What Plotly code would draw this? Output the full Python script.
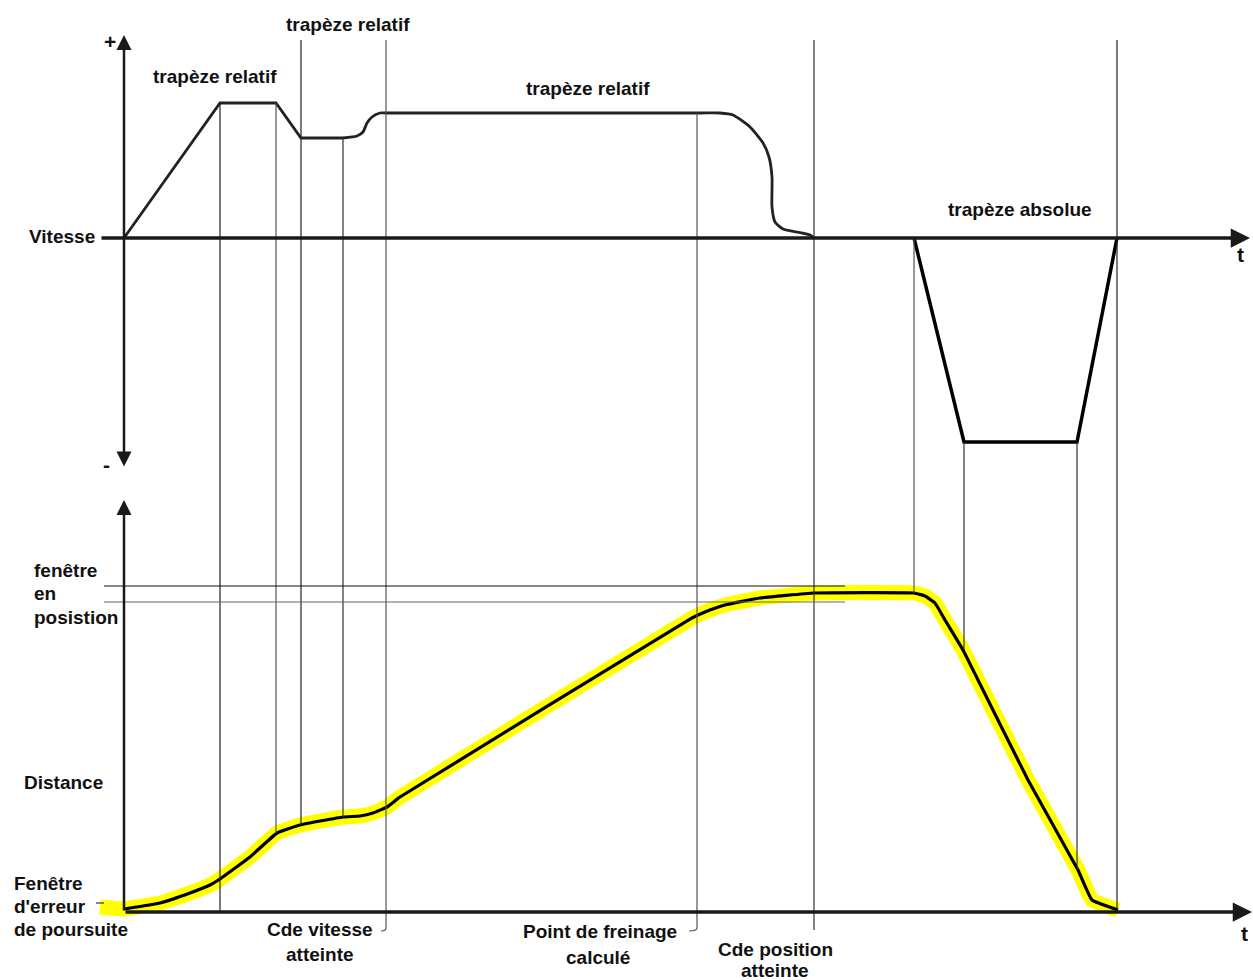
import plotly.graph_objects as go

# ---------------- data (time in arbitrary units, values in arbitrary units) ----------------
# Speed profile (upper diagram): relative trapezoids (straight part) ...
speed_t = [124, 220, 276, 301, 343]
speed_v = [0, 135, 135, 100, 100]
# ... then smooth change of speed and smooth braking to zero
speed2_t = [343, 357, 363, 367, 372, 380, 386, 700, 720, 733, 750, 763,
            769, 772, 772, 775, 783, 797, 810, 814]
speed2_v = [100, 102, 106, 115, 121, 125, 125, 125, 125, 123, 111, 95,
            81, 61, 31, 16, 9, 6, 3, 0]
# Absolute trapezoid (negative speed)
abs_t = [914, 964, 1077, 1117]
abs_v = [0, -204, -204, 0]

# Distance profile (lower diagram)
dist_t = [124, 160, 190, 210, 220, 250, 277, 300, 343, 360, 373, 387, 400, 692, 705, 725,
          760, 814, 914, 925, 935, 945, 963, 977, 1028, 1078, 1092, 1118]
dist_d = [3, 9, 19, 27, 33, 55, 79, 87, 95, 96, 99, 105, 115, 294, 300, 307,
          314, 319, 319, 316, 309, 292, 262, 234, 132, 42, 12, 2]
err_start_t = 100     # following-error window starts left of the axis
err_start_d = 5

# In-position window levels (distance units)
window_hi = 326
window_lo = 310

# Marker instants: (time, top on speed axis, bottom on distance axis)
mark_t = [220, 276, 301, 343, 386, 697, 814, 914, 964, 1077, 1117]
mark_top_v = [135, 135, 198, 100, 198, 125, 198, 0, -204, -204, 198]
mark_bot_d = [0, 79, 87, 95, -16, -16, -18, 319, 262, 42, 2]
mark_color = ["#222", "#555", "#222", "#333", "#555", "#555", "#333", "#555", "#333", "#333", "#222"]

# ---------------- layout helpers ----------------
W, H = 1253, 980
V0_PX = 238   # pixel row of speed zero
D0_PX = 912   # pixel row of distance zero


def v_paper(v):
    return (v - (V0_PX - H)) / H


def d_paper(d):
    return (d - (D0_PX - H)) / H


def px_paper(py):
    return 1 - py / H


FONT = "Liberation Sans, Arial, sans-serif"
INK = "#1a1a1a"
FS = 19

fig = go.Figure()

# yellow following-error band
fig.add_trace(go.Scatter(x=[err_start_t] + dist_t, y=[err_start_d] + dist_d, yaxis="y2",
                         mode="lines", line=dict(color="#ffff00", width=15, shape="spline", smoothing=0.3),
                         hoverinfo="skip", showlegend=False))
# distance curve
fig.add_trace(go.Scatter(x=dist_t, y=dist_d, yaxis="y2", mode="lines",
                         line=dict(color="#000", width=3.2, shape="spline", smoothing=0.3),
                         hoverinfo="skip", showlegend=False))
# speed curve
fig.add_trace(go.Scatter(x=speed_t, y=speed_v, mode="lines",
                         line=dict(color="#222", width=2.8),
                         hoverinfo="skip", showlegend=False))
fig.add_trace(go.Scatter(x=speed2_t, y=speed2_v, mode="lines",
                         line=dict(color="#222", width=2.8, shape="spline", smoothing=0.6),
                         hoverinfo="skip", showlegend=False))
fig.add_trace(go.Scatter(x=abs_t, y=abs_v, mode="lines",
                         line=dict(color="#000", width=3.5),
                         hoverinfo="skip", showlegend=False))

shapes = []
# vertical marker lines
for t, top, bot, c in zip(mark_t, mark_top_v, mark_bot_d, mark_color):
    shapes.append(dict(type="line", xref="x", yref="paper", x0=t, x1=t,
                       y0=v_paper(top), y1=d_paper(bot), line=dict(color=c, width=1.2)))
# small hooks at the bottom of two markers
for t, dx in [(386, -5), (697, -8)]:
    shapes.append(dict(type="path", xref="x", yref="paper",
                       path=f"M {t},{d_paper(-16)} Q {t},{d_paper(-19)} {t+dx},{d_paper(-19)}",
                       line=dict(color="#555", width=1.2)))
# in-position window lines
for lvl, c in [(window_hi, "#111"), (window_lo, "#666")]:
    shapes.append(dict(type="line", xref="x", yref="paper", x0=104, x1=845,
                       y0=d_paper(lvl), y1=d_paper(lvl), line=dict(color=c, width=1.2)))
# small tick of error window
shapes.append(dict(type="line", xref="x", yref="paper", x0=96, x1=104,
                   y0=d_paper(9), y1=d_paper(9), line=dict(color="#111", width=1)))

annotations = []
# axes with arrows
annotations.append(dict(x=1250, y=0, xref="x", yref="y", ax=100, ay=0, axref="x", ayref="y",
                        text="", showarrow=True, arrowhead=2, arrowsize=1.1, arrowwidth=3.5, arrowcolor=INK))
annotations.append(dict(x=124, y=203, xref="x", yref="y", ax=124, ay=-230, axref="x", ayref="y",
                        text="", showarrow=True, arrowhead=2, arrowside="end+start", arrowsize=1.2,
                        arrowwidth=2.5, arrowcolor=INK))
annotations.append(dict(x=1252, y=0, xref="x", yref="y2", ax=124, ay=0, axref="x", ayref="y2",
                        text="", showarrow=True, arrowhead=2, arrowsize=1.1, arrowwidth=3.5, arrowcolor=INK))
annotations.append(dict(x=124, y=412, xref="x", yref="y2", ax=124, ay=0, axref="x", ayref="y2",
                        text="", showarrow=True, arrowhead=2, arrowsize=1.2, arrowwidth=2.5, arrowcolor=INK))


def label(txt, x, py, align="center", size=FS):
    xanchor = {"center": "center", "left": "left", "right": "right"}[align]
    annotations.append(dict(x=x, y=px_paper(py), xref="x", yref="paper", text=f"<b>{txt}</b>",
                            showarrow=False, xanchor=xanchor, yanchor="middle",
                            font=dict(family=FONT, size=size, color="#111")))


label("+", 110, 42, size=21)
label("-", 106, 464, size=21)
label("Vitesse", 97, 236, "right")
label("trapèze relatif", 215, 77)
label("trapèze relatif", 348, 25)
label("trapèze relatif", 588, 89)
label("trapèze absolue", 1020, 209)
label("t", 1240, 254, size=21)
label("t", 1244, 933, size=21)
label("fenêtre", 32, 570, "left")
label("en", 32, 593, "left")
label("posistion", 32, 617, "left")
label("Distance", 22, 782, "left")
label("Fenêtre", 12, 883, "left")
label("d'erreur", 12, 906, "left")
label("de poursuite", 12, 929, "left")
label("Cde vitesse", 320, 929)
label("atteinte", 320, 954)
label("Point de freinage", 600, 931)
label("calculé", 598, 957)
label("Cde position", 775, 949)
label("atteinte", 775, 970)

fig.update_layout(
    width=W, height=H,
    margin=dict(l=0, r=0, t=0, b=0),
    paper_bgcolor="white", plot_bgcolor="white",
    xaxis=dict(range=[0, W], visible=False, fixedrange=True),
    yaxis=dict(range=[V0_PX - H, V0_PX], visible=False, fixedrange=True),
    yaxis2=dict(range=[D0_PX - H, D0_PX], visible=False, fixedrange=True, overlaying="y"),
    shapes=shapes,
    annotations=annotations,
    showlegend=False,
)

fig.write_html("out.html", config={"displayModeBar": False},
               post_script="document.body.style.margin='0';document.body.style.overflow='hidden';")
